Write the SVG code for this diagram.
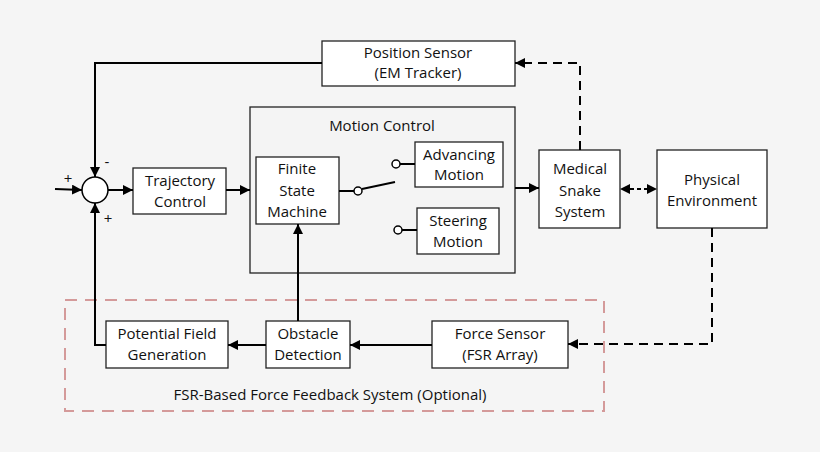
<svg xmlns="http://www.w3.org/2000/svg" width="820" height="452" viewBox="0 0 820 452">
<defs>
<marker id="ar" viewBox="0 0 10 10" refX="10" refY="5" markerWidth="10" markerHeight="10" markerUnits="userSpaceOnUse" orient="auto"><path d="M0,0L10,5L0,10z" fill="#000"/></marker>
<style>
.b{fill:#fff;stroke:#222;stroke-width:1.3}
.t{font-family:"Open Sans","Liberation Sans",sans-serif;font-size:15px;text-anchor:middle;fill:#111}
.l{fill:none;stroke:#000;stroke-width:2}
.d{fill:none;stroke:#000;stroke-width:2;stroke-dasharray:9,6}
</style>
</defs>
<rect width="820" height="452" fill="#f5f5f5"/>
<rect x="65" y="300" width="539" height="111" fill="none" stroke="#d49a9a" stroke-width="2" stroke-dasharray="12,8"/>
<text class="t" x="330" y="400">FSR-Based Force Feedback System (Optional)</text>
<g id="pos"><rect class="b" x="322" y="41" width="193" height="45"/><text class="t" x="418" y="58">Position Sensor</text><text class="t" x="418" y="78">(EM Tracker)</text></g>
<g id="mc"><rect x="250" y="107" width="265" height="166" fill="#f4f4f4" stroke="#222" stroke-width="1.3"/><text class="t" x="382" y="131">Motion Control</text></g>
<g id="fsm"><rect class="b" x="256" y="157" width="83" height="67"/><text class="t" x="297" y="174">Finite</text><text class="t" x="297" y="196">State</text><text class="t" x="297" y="217">Machine</text></g>
<g id="adv"><rect class="b" x="415" y="142" width="88" height="45"/><text class="t" x="459" y="160">Advancing</text><text class="t" x="459" y="180">Motion</text></g>
<g id="ste"><rect class="b" x="417" y="208" width="82" height="46"/><text class="t" x="458" y="226">Steering</text><text class="t" x="458" y="247">Motion</text></g>
<g id="sum"><circle cx="95" cy="190" r="13" fill="#fff" stroke="#000" stroke-width="1.5"/>
<text class="t" x="68" y="184" font-size="10">+</text><text class="t" x="107" y="167" font-size="10">-</text><text class="t" x="108" y="224" font-size="10">+</text></g>
<g id="traj"><rect class="b" x="133" y="168" width="93" height="46"/><text class="t" x="180" y="186">Trajectory</text><text class="t" x="180" y="207">Control</text></g>
<g id="snake"><rect class="b" x="539" y="150" width="81" height="78"/><text class="t" x="580" y="174">Medical</text><text class="t" x="580" y="196">Snake</text><text class="t" x="580" y="217">System</text></g>
<g id="env"><rect class="b" x="657" y="150" width="110" height="78"/><text class="t" x="712" y="185">Physical</text><text class="t" x="712" y="206">Environment</text></g>
<g id="force"><rect class="b" x="432" y="321" width="136" height="47"/><text class="t" x="500" y="339">Force Sensor</text><text class="t" x="500" y="360">(FSR Array)</text></g>
<g id="obs"><rect class="b" x="266" y="321" width="84" height="47"/><text class="t" x="308" y="339">Obstacle</text><text class="t" x="308" y="360">Detection</text></g>
<g id="pot"><rect class="b" x="106" y="321" width="122" height="47"/><text class="t" x="167" y="339">Potential Field</text><text class="t" x="167" y="360">Generation</text></g>
<g id="connectors">
<line class="l" x1="55" y1="189" x2="82" y2="190" marker-end="url(#ar)"/>
<line class="l" x1="108" y1="190" x2="133" y2="190" marker-end="url(#ar)"/>
<line class="l" x1="226" y1="190" x2="250" y2="190" marker-end="url(#ar)"/>
<line class="l" x1="515" y1="188" x2="539" y2="188" marker-end="url(#ar)"/>
<polyline class="l" points="322,63 95,63 95,177" marker-end="url(#ar)"/>
<polyline class="l" points="106,345 95,345 95,203" marker-end="url(#ar)"/>
<line class="l" x1="298" y1="321" x2="298" y2="224" marker-end="url(#ar)"/>
<line class="l" x1="432" y1="345" x2="350" y2="345" marker-end="url(#ar)"/>
<line class="l" x1="266" y1="345" x2="228" y2="345" marker-end="url(#ar)"/>
<polyline class="d" points="580,150 580,63 515,63" marker-end="url(#ar)"/>
<polyline class="d" points="712,228 712,344 568,344" marker-end="url(#ar)"/>
<line stroke="#000" stroke-width="2" stroke-dasharray="4,3" x1="630" y1="189" x2="647" y2="189"/>
<path d="M620,189L630,184L630,194z M657,189L647,184L647,194z" fill="#000"/>
<line class="l" x1="339" y1="191" x2="354" y2="191"/>
<circle cx="358" cy="191" r="4" fill="#fff" stroke="#000" stroke-width="1.5"/>
<line class="l" x1="362" y1="189" x2="395" y2="182"/>
<circle cx="396" cy="164" r="4" fill="#fff" stroke="#000" stroke-width="1.5"/>
<line class="l" x1="400" y1="164" x2="415" y2="164"/>
<circle cx="398" cy="230" r="4" fill="#fff" stroke="#000" stroke-width="1.5"/>
<line class="l" x1="402" y1="230" x2="417" y2="230"/>
</g>
</svg>
